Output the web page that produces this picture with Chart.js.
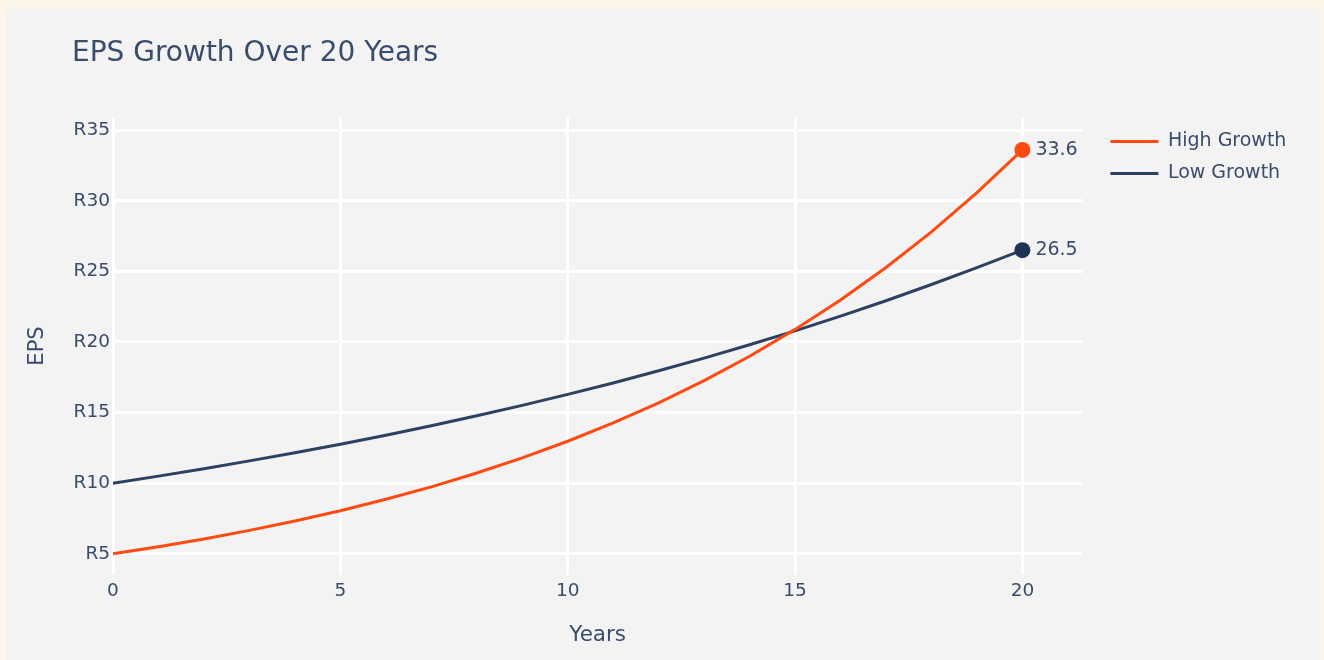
<!DOCTYPE html>
<html>
<head>
<meta charset="utf-8">
<script src="https://cdn.jsdelivr.net/npm/chart.js@4.4.1/dist/chart.umd.min.js"></script>
<style>
  html, body { margin: 0; padding: 0; background: #fdf5e8; overflow: hidden; }
  #wrap { position: absolute; left: 0; top: 0; width: 1324px; height: 660px; }
</style>
</head>
<body>
<div id="wrap"><canvas id="c" width="1324" height="660"></canvas></div>
<script>
// ---- data ----
const years = [0, 1, 2, 3, 4, 5, 6, 7, 8, 9, 10, 11, 12, 13, 14, 15, 16, 17, 18, 19, 20];
const highGrowth = [5.0, 5.5, 6.05, 6.66, 7.32, 8.05, 8.86, 9.74, 10.72, 11.79, 12.97,
                    14.27, 15.69, 17.26, 18.99, 20.89, 22.97, 25.27, 27.80, 30.58, 33.6];
const lowGrowth  = [10.0, 10.5, 11.03, 11.58, 12.16, 12.76, 13.40, 14.07, 14.77, 15.51, 16.29,
                    17.10, 17.96, 18.86, 19.80, 20.79, 21.83, 22.92, 24.07, 25.27, 26.5];
const seriesNames = ['High Growth', 'Low Growth'];
const xTicks = [0, 5, 10, 15, 20];
const yTicks = [5, 10, 15, 20, 25, 30, 35];
const chartTitle = 'EPS Growth Over 20 Years';
const xTitle = 'Years';
const yTitle = 'EPS';
const currencyPrefix = 'R';

// ---- styling ----
const FONT = '"DejaVu Sans", Verdana, sans-serif';
const TEXT = '#3a4c6b';
const ORANGE = '#ff4a12';
const NAVY = '#2e4062';
const NAVY_MARK = '#1f3356';

const lastIdx = years.length - 1;
const radii = years.map((_, i) => i === lastIdx ? 8 : 0);

const bgPlugin = {
  id: 'bg',
  beforeDraw(chart) {
    const ctx = chart.ctx;
    ctx.save();
    ctx.fillStyle = '#fdf5e8';
    ctx.fillRect(0, 0, chart.width, chart.height);
    ctx.fillStyle = '#f3f3f3';
    ctx.fillRect(6, 9, 1313, 651);
    ctx.restore();
  }
};

const layoutShift = {
  id: 'layoutShift',
  afterLayout(chart) {
    if (chart.titleBlock) {
      const w = chart.titleBlock.right - chart.titleBlock.left;
      chart.titleBlock.left = 72;
      chart.titleBlock.right = 72 + w;
    }
    if (chart.legend) {
      chart.legend.top += 2;
      chart.legend.bottom += 2;
    }
  }
};

const endLabels = {
  id: 'endLabels',
  afterDatasetsDraw(chart) {
    const ctx = chart.ctx;
    ctx.save();
    ctx.font = '19px ' + FONT;
    ctx.fillStyle = TEXT;
    ctx.textAlign = 'left';
    ctx.textBaseline = 'middle';
    chart.data.datasets.forEach((ds, i) => {
      const meta = chart.getDatasetMeta(i);
      const pt = meta.data[meta.data.length - 1];
      const v = ds.data[ds.data.length - 1].y;
      ctx.fillText(v.toFixed(1), pt.x + 13, pt.y);
    });
    ctx.restore();
  }
};

new Chart(document.getElementById('c'), {
  type: 'line',
  data: {
    datasets: [
      {
        label: seriesNames[0],
        data: years.map((x, i) => ({ x, y: highGrowth[i] })),
        borderColor: ORANGE,
        backgroundColor: ORANGE,
        pointBackgroundColor: ORANGE,
        borderWidth: 3,
        pointRadius: radii,
        pointHoverRadius: radii,
        pointBorderWidth: 0,
        tension: 0,
        fill: false,
        clip: false
      },
      {
        label: seriesNames[1],
        data: years.map((x, i) => ({ x, y: lowGrowth[i] })),
        borderColor: NAVY,
        backgroundColor: NAVY_MARK,
        pointBackgroundColor: NAVY_MARK,
        borderWidth: 3,
        pointRadius: radii,
        pointHoverRadius: radii,
        pointBorderWidth: 0,
        tension: 0,
        fill: false,
        clip: false
      }
    ]
  },
  options: {
    responsive: false,
    animation: false,
    devicePixelRatio: 1,
    layout: { padding: { left: 21, right: 27.6, top: 0, bottom: 7.4 } },
    plugins: {
      title: {
        display: true,
        text: chartTitle,
        align: 'start',
        color: TEXT,
        font: { family: FONT, size: 28, weight: 'normal', lineHeight: 1.2 },
        padding: { top: 37, bottom: 46.4 }
      },
      legend: {
        position: 'right',
        align: 'start',
        fullSize: false,
        labels: {
          usePointStyle: true,
          pointStyle: 'line',
          pointStyleWidth: 48,
          padding: 13,
          color: TEXT,
          font: { family: FONT, size: 19 },
          generateLabels: (chart) => {
            const items = Chart.defaults.plugins.legend.labels.generateLabels(chart);
            items.forEach((it) => {
              const ds = chart.data.datasets[it.datasetIndex];
              it.strokeStyle = ds.borderColor;
              it.fillStyle = ds.borderColor;
              it.lineWidth = 3;
              it.pointStyle = 'line';
            });
            return items;
          }
        }
      },
      tooltip: { enabled: false }
    },
    scales: {
      x: {
        type: 'linear',
        min: 0,
        max: 21.32,
        afterBuildTicks: (axis) => { axis.ticks = xTicks.map(v => ({ value: v })); },
        afterFit: (s) => { s.height = 77.6; },
        grid: { color: '#ffffff', lineWidth: 3, drawTicks: false },
        border: { display: false },
        ticks: { color: TEXT, font: { family: FONT, size: 18.5 }, padding: 5, maxRotation: 0 },
        title: { display: true, text: xTitle, color: TEXT, font: { family: FONT, size: 21.5 } }
      },
      y: {
        type: 'linear',
        min: 3.5,
        max: 35.93,
        afterBuildTicks: (axis) => { axis.ticks = yTicks.map(v => ({ value: v })); },
        afterFit: (s) => { s.width = 92; },
        grid: { color: '#ffffff', lineWidth: 3, drawTicks: false },
        border: { display: false },
        ticks: {
          color: TEXT, font: { family: FONT, size: 18.5 }, padding: 3,
          callback: (v) => currencyPrefix + v
        },
        title: { display: true, text: yTitle, color: TEXT, font: { family: FONT, size: 21 } }
      },
      yR: {
        type: 'linear',
        position: 'right',
        display: true,
        afterFit: (s) => { s.width = 15; },
        grid: { display: false, drawTicks: false },
        border: { display: false },
        ticks: { display: false }
      }
    }
  },
  plugins: [bgPlugin, layoutShift, endLabels]
});
</script>
</body>
</html>
